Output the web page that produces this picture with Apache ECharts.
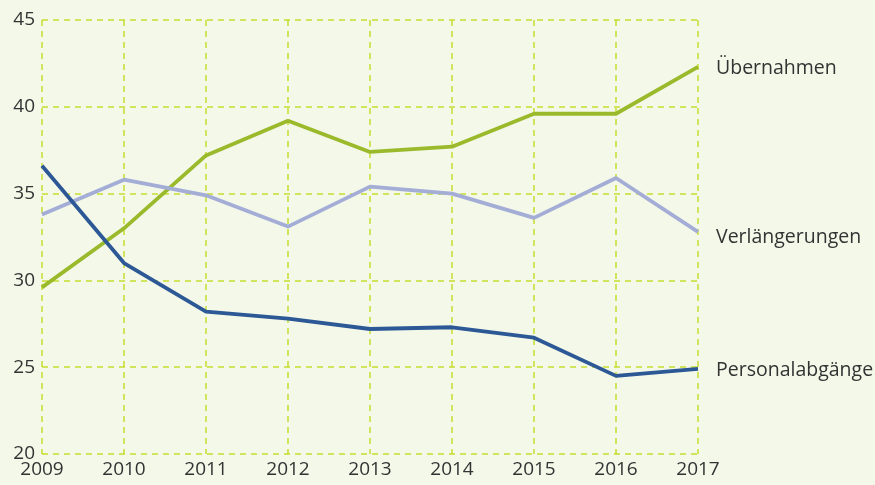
<!DOCTYPE html>
<html>
<head>
<meta charset="utf-8">
<script src="https://cdn.jsdelivr.net/npm/echarts@6/dist/echarts.min.js"></script>
<style>
  html, body { margin: 0; padding: 0; background: #f4f8e9; }
  #chart { width: 875px; height: 485px; }
</style>
</head>
<body>
<div id="chart"></div>
<script>
const years = ['2009', '2010', '2011', '2012', '2013', '2014', '2015', '2016', '2017']
const uebernahmen = [29.6, 33.0, 37.2, 39.2, 37.4, 37.7, 39.6, 39.6, 42.3]
const verlaengerungen = [33.8, 35.8, 34.9, 33.1, 35.4, 35.0, 33.6, 35.9, 32.8]
const personalabgaenge = [36.6, 31.0, 28.2, 27.8, 27.2, 27.3, 26.7, 24.5, 24.9]

const gridColor = '#c6dc2e'
const textColor = '#333333'

const chart = echarts.init(document.getElementById('chart'))

const makeSeries = (name, data, color, dy) => ({
  name,
  type: 'line',
  data,
  symbol: 'none',
  lineStyle: { color, width: 3.8 },
  itemStyle: { color },
  endLabel: {
    show: true,
    formatter: '{a}',
    distance: 18,
    offset: [0, dy],
    color: textColor,
    fontSize: 19.5,
    fontFamily: 'Open Sans'
  }
})

chart.setOption({
  backgroundColor: '#f4f8e9',
  animation: false,
  grid: { left: 42, right: 177, top: 20, bottom: 31 },
  xAxis: {
    type: 'category',
    data: years,
    boundaryGap: false,
    axisLine: { show: false },
    axisTick: { show: false },
    axisLabel: { color: textColor, fontSize: 19, fontFamily: 'Open Sans', margin: 6 },
    splitLine: { show: true, lineStyle: { color: gridColor, width: 1.5, type: [6, 5] } }
  },
  yAxis: {
    type: 'value',
    min: 20,
    max: 45,
    interval: 5,
    axisLine: { show: false },
    axisTick: { show: false },
    axisLabel: { color: textColor, fontSize: 19, fontFamily: 'Open Sans', margin: 7 },
    splitLine: { show: true, lineStyle: { color: gridColor, width: 1.5, type: [6, 5] } }
  },
  series: [
    makeSeries('Übernahmen', uebernahmen, '#9aba2c', 2),
    makeSeries('Verlängerungen', verlaengerungen, '#a3add6', 6),
    makeSeries('Personalabgänge', personalabgaenge, '#2c5895', 2)
  ]
})
</script>
</body>
</html>
